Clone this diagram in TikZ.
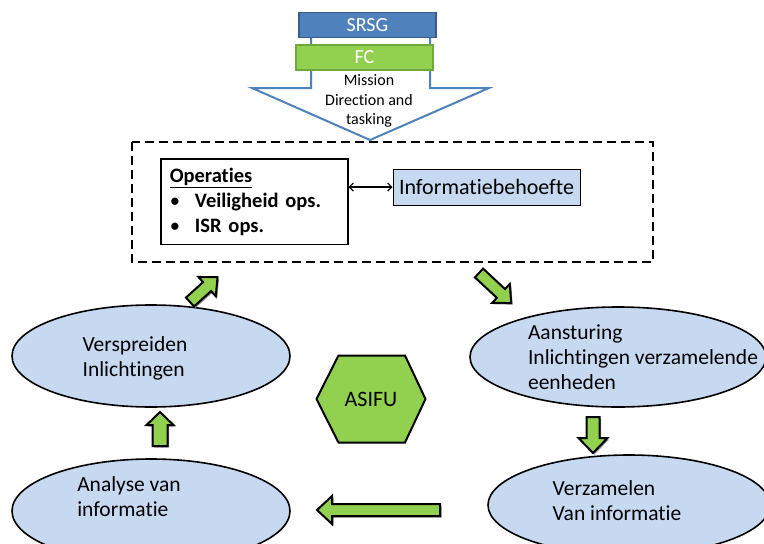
\documentclass[tikz,border=0pt]{standalone}
\usepackage{fontspec}
\setmainfont{Carlito}[Ligatures=NoCommon]
\usetikzlibrary{shapes.geometric,positioning,arrows.meta}
\definecolor{srsgblue}{HTML}{4F81BD}
\definecolor{srsgline}{HTML}{385D8A}
\definecolor{fcgreen}{HTML}{92D050}
\definecolor{fcline}{HTML}{71A83B}
\definecolor{cellblue}{HTML}{C6D9F1}
\tikzset{
x=1pt, y=-1pt,
>={Straight Barb[length=4pt,width=8pt]},
every node/.style={font=\fontsize{21.5}{25}\selectfont},
pics/greenarrow/.style n args={4}{code={
    \fill[black!45, transform canvas={shift={(1.5pt,-1.5pt)}}]
        (0,-#2) -- ({#1-#4},-#2) -- ({#1-#4},-#3) -- (#1,0)
        -- ({#1-#4},#3) -- ({#1-#4},#2) -- (0,#2) -- cycle;
    \draw[fill=fcgreen, line width=2pt, line join=miter]
        (0,-#2) -- ({#1-#4},-#2) -- ({#1-#4},-#3) -- (#1,0)
        -- ({#1-#4},#3) -- ({#1-#4},#2) -- (0,#2) -- cycle;
}},
}

\begin{document}
\begin{tikzpicture}
    [cell/.style={ellipse, draw, line width=1.6pt, fill=cellblue},
    celltext/.style={align=left},
    topbox/.style={rectangle, line width=1.5pt, text=white, inner sep=0pt,
        minimum width=137, minimum height=25, font=\fontsize{20}{24}\selectfont},
    infobox/.style={rectangle, draw, line width=1pt, fill=cellblue,
        minimum width=187, minimum height=36, font=\fontsize{22}{25}\selectfont},
    hexa/.style={draw, line width=2pt, fill=fcgreen, line join=miter}
    ]
    \useasboundingbox (0,0) rectangle (764,544);

    % top: mission arrow
    \draw[srsgblue, line width=2pt, fill=white, line join=miter]
        (311,25) -- (311,88) -- (252,88) -- (370,140) -- (489,88) -- (430,88) -- (430,25);
    \node [topbox, draw=srsgline, fill=srsgblue] (srsg) at (367.5,25) {SRSG};
    \node [topbox, draw=fcline, fill=fcgreen] (fc) at (364.5,57.5) {FC};
    \node [align=center, font=\fontsize{16}{19.5}\selectfont] (mission) at (369,101)
    {
        Mission\\
        Direction and\\
        tasking
    };

    % dashed frame
    \draw[line width=2.5pt, dash pattern=on 9pt off 5pt] (132,142) rectangle (653,262);

    \node [draw, line width=1.5pt, anchor=north west, align=left, text width=169,
        inner sep=9, minimum height=85, font=\fontsize{20.5}{25}\selectfont] (ops) at (160,158)
    {
        \textbf{\underline{Operaties}}\\
        \textbullet\hspace{15pt}\textbf{Veiligheid ops.}\\
        \textbullet\hspace{15pt}\textbf{ISR ops.}
    };

    \node [infobox] (info) at (486.5,187) {Informatiebehoefte};

    \draw[<->, line width=1.2pt] (ops.east |- info.west) -- (info.west);

    % cycle
    \node [cell, minimum width=278, minimum height=102,
        label={[celltext, xshift=-16, yshift=-2]center:Verspreiden\\Inlichtingen}]
        (spread) at (151,356) {};
    \node [cell, minimum width=278, minimum height=104,
        label={[celltext, xshift=-22, yshift=14.5]center:Analyse van\\informatie}]
        (analyse) at (151,511) {};
    \node [cell, minimum width=296, minimum height=100,
        label={[celltext, xshift=25]center:Aansturing\\Inlichtingen verzamelende\\eenheden}]
        (steer) at (618,357) {};
    \node [cell, minimum width=282, minimum height=100,
        label={[celltext, xshift=-12, yshift=4.5]center:Verzamelen\\Van informatie}]
        (collect) at (629,505) {};

    \coordinate (hexc) at (371,399);
    \draw[hexa] (hexc) +(-54.5,0) -- +(-32.5,-43.5) -- +(34,-43.5) -- +(54.5,0)
        -- +(34,43.5) -- +(-32.5,43.5) -- cycle;
    \node [font=\fontsize{22}{25}\selectfont] (asifu) at (hexc) {ASIFU};

    \pic[rotate=-43] at (479,273) {greenarrow={44}{6}{13}{14}};
    \pic[rotate=-90] at (593,417) {greenarrow={36}{6.5}{14.5}{15}};
    \pic[rotate=180] at (440,510) {greenarrow={123}{6}{14}{15}};
    \pic[rotate=90] at (160,446) {greenarrow={34}{7.5}{13.5}{13}};
    \pic[rotate=42] at (190,302) {greenarrow={37}{6}{13}{14}};

\end{tikzpicture}
\end{document}
